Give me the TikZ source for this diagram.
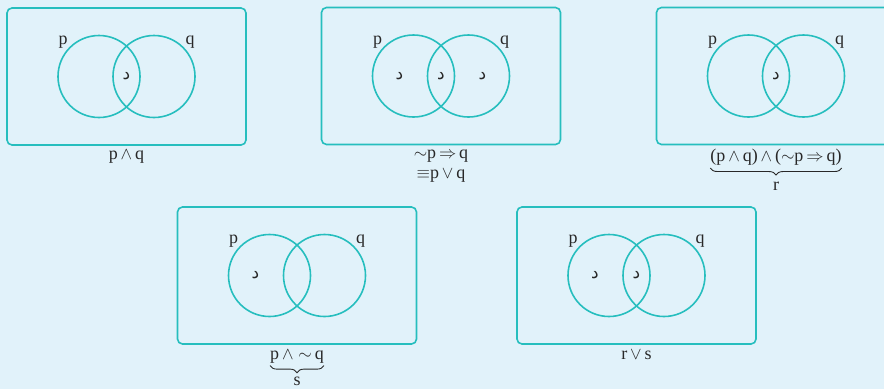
\documentclass[tikz,border=0pt]{standalone}
\usepackage{fontspec}
\setmainfont{Liberation Serif}
\newfontfamily\arabicfont[Script=Arabic]{DejaVu Sans}
\usetikzlibrary{positioning,calc,decorations.pathreplacing}
\definecolor{venn}{RGB}{38,190,190}
\definecolor{bgblue}{RGB}{225,242,250}
\definecolor{ink}{RGB}{40,40,40}

\begin{document}
\begin{tikzpicture}[
  x=1pt, y=-1pt,
  font=\fontsize{18}{20}\selectfont,
  text=ink,
  frame/.style={draw=venn, line width=1.6pt, rounded corners=5pt, minimum width=239pt, minimum height=137pt, inner sep=0pt},
  vset/.style={draw=venn, line width=1.6pt, circle, minimum size=82pt, inner sep=0pt},
  dal/.style={font=\arabicfont\fontsize{17}{18}\selectfont, inner sep=0pt},
  lbl/.style={align=center, inner sep=1pt},
  brc/.style={draw=ink, line width=0.9pt, decorate, decoration={brace, mirror, amplitude=7pt}},
]
\clip (0,0) rectangle (884,389);
\fill[bgblue] (0,0) rectangle (884,389);
% Frames with two sets each
\foreach \n/\cx/\cy in {a/126.5/76.5, b/441/76, c/776/76, d/297/275.5, e/636.5/275.5} {
  \node[frame] (\n) at (\cx,\cy) {};
  \node[vset] (p\n) at ($(\n)+(-27.5,0)$) {};
  \node[vset] (q\n) at ($(\n)+(27.5,0)$) {};
  \node at ($(p\n)+(-36,-34)$) {p};
  \node at ($(q\n)+(36,-34)$) {q};
}
% Marked regions
\node[dal] (da) at (a) {د};
\node[dal] (db1) at ($(pb)+(-14,0)$) {د};
\node[dal] (db2) at (b) {د};
\node[dal] (db3) at ($(qb)+(14,0)$) {د};
\node[dal] (dc) at (c) {د};
\node[dal] (dd) at ($(pd)+(-14,0)$) {د};
\node[dal] (de1) at ($(pe)+(-14,0)$) {د};
\node[dal] (de2) at (e) {د};
% Captions
\node[lbl, below=3pt of a] (capa) {p$\,\wedge\,$q};
\node[lbl, below=3pt of b] (capb) {$\sim$p$\,\Rightarrow\,$q\\$\equiv$p$\,\vee\,$q};
\node[lbl, below=3pt of c] (capc) {(p$\,\wedge\,$q)$\,\wedge\,$($\sim$p$\,\Rightarrow\,$q)};
\draw[brc] ($(capc.south west)+(1,1)$) -- ($(capc.south east)+(-1,1)$);
\node[lbl, below=14pt of capc] (r) {r};
\node[lbl, below=4pt of d] (capd) {p$\,\wedge\sim\,$q};
\draw[brc] ($(capd.south west)+(1,1)$) -- ($(capd.south east)+(-1,1)$);
\node[lbl, below=11pt of capd] (s) {s};
\node[lbl, below=4pt of e] (cape) {r$\,\vee\,$s};
\end{tikzpicture}
\end{document}
